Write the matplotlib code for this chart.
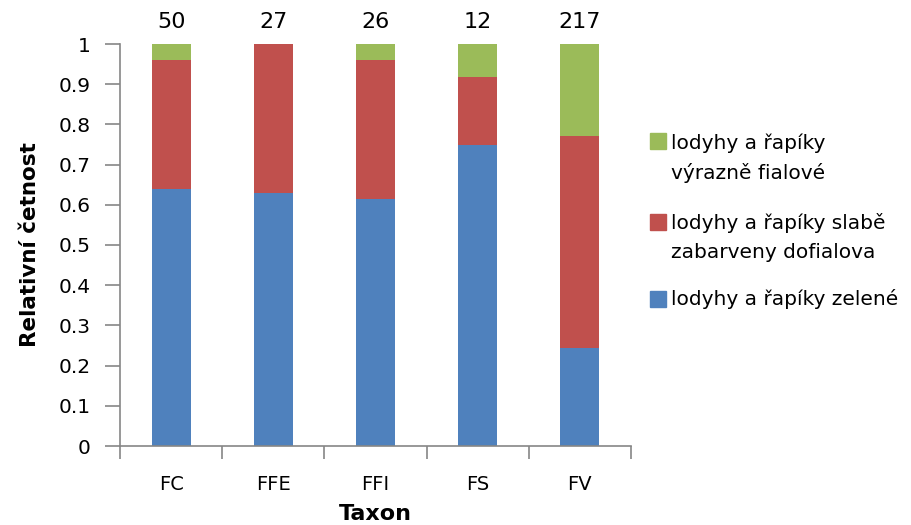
import matplotlib
matplotlib.use("Agg")
import matplotlib.pyplot as plt
from matplotlib.patches import Rectangle
import numpy as np

plt.rcParams['font.family'] = ['DejaVu Sans']

categories = ["FC", "FFE", "FFI", "FS", "FV"]
counts = ["50", "27", "26", "12", "217"]
blue = [0.64, 0.63, 0.615, 0.75, 0.245]
red = [0.32, 0.37, 0.345, 0.167, 0.525]
green = [0.04, 0.0, 0.04, 0.083, 0.23]
yticks = [0, 0.1, 0.2, 0.3, 0.4, 0.5, 0.6, 0.7, 0.8, 0.9, 1]
ytick_labels = ["0", "0.1", "0.2", "0.3", "0.4", "0.5", "0.6", "0.7", "0.8", "0.9", "1"]
series_labels = ["lodyhy a řapíky zelené",
                 "lodyhy a řapíky slabě\nzabarveny dofialova",
                 "lodyhy a řapíky\nvýrazně fialové"]
colors = ["#4F81BD", "#C0504D", "#9BBB59"]

W, H = 912, 525
fig = plt.figure(figsize=(W / 100, H / 100), dpi=100)
ax = fig.add_axes([120 / W, 1 - 446 / H, (631 - 120) / W, (446 - 44) / H])

x = np.arange(len(categories))
bw = 0.38
b = np.array(blue)
r = np.array(red)
g = np.array(green)
ax.bar(x, b, bw, color=colors[0], edgecolor='none')
ax.bar(x, r, bw, bottom=b, color=colors[1], edgecolor='none')
ax.bar(x, g, bw, bottom=b + r, color=colors[2], edgecolor='none')

ax.set_xlim(-0.5, len(categories) - 0.5)
ax.set_ylim(0, 1)
ax.set_yticks(yticks)
ax.set_yticklabels(ytick_labels, fontsize=14.5)
ax.set_xticks(np.arange(len(categories) + 1) - 0.5)
ax.set_xticklabels([])
ax.set_xticks(x, minor=True)
ax.set_xticklabels(categories, minor=True, fontsize=14)
ax.tick_params(axis='x', which='major', length=9, width=1.2, color='#868686', direction='out')
ax.tick_params(axis='x', which='minor', length=0, pad=21)
ax.tick_params(axis='y', length=11, width=1.2, color='#868686', direction='out', pad=10)
for s in ['top', 'right']:
    ax.spines[s].set_visible(False)
for s in ['left', 'bottom']:
    ax.spines[s].set_color('#868686')
    ax.spines[s].set_linewidth(1.2)

for i, c in enumerate(counts):
    ax.text(x[i], 1.055, c, ha='center', va='center', fontsize=16, clip_on=False)

fig.text(30 / W, 1 - 245 / H, "Relativní četnost", rotation=90, ha='center', va='center',
         fontsize=15.5, fontweight='bold')
fig.text(375 / W, 1 - 514 / H, "Taxon", ha='center', va='center', fontsize=16, fontweight='bold')

# legend (top to bottom: green, red, blue)
rows = [(2, 141, [143, 173]), (1, 222, [223, 252]), (0, 299, [299])]
for idx, ysq, ylines in rows:
    fig.add_artist(Rectangle((650 / W, 1 - (ysq + 8) / H), 16 / W, 16 / H,
                             transform=fig.transFigure, color=colors[idx]))
    for line, yl in zip(series_labels[idx].split("\n"), ylines):
        fig.text(671 / W, 1 - yl / H, line, ha='left', va='center', fontsize=14.5)

fig.savefig("out.png", dpi=100)
